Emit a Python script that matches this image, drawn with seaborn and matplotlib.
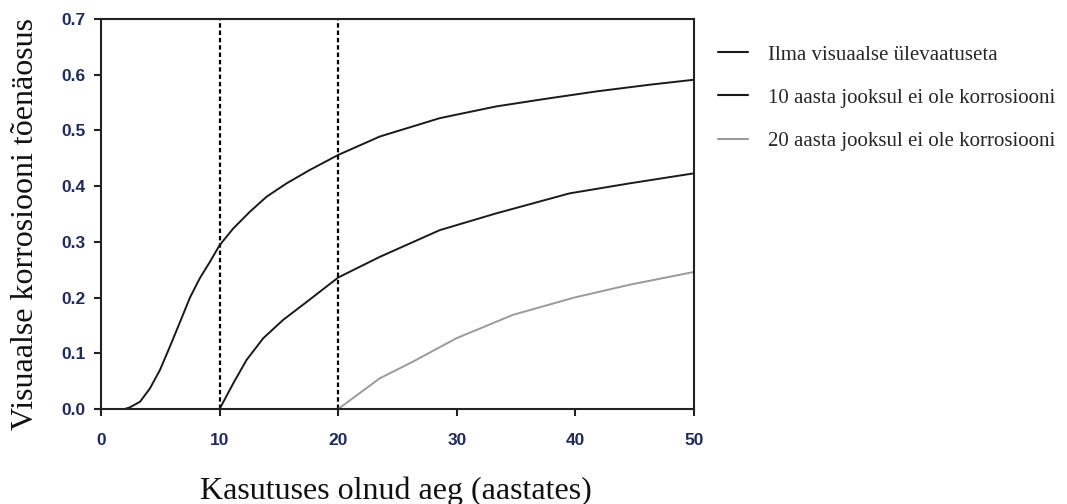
import numpy as np
import pandas as pd
import matplotlib
matplotlib.use("Agg")
import matplotlib.pyplot as plt
import seaborn as sns

# ---- data ----
labels = ["Ilma visuaalse ülevaatuseta",
          "10 aasta jooksul ei ole korrosiooni",
          "20 aasta jooksul ei ole korrosiooni"]

x1 = [2.0, 2.44, 3.29, 4.13, 4.97, 5.81, 6.66, 7.5, 8.34, 9.18, 10.0, 11.15, 12.55, 13.96,
      15.65, 17.6, 20.0, 23.5, 28.56, 33.3, 37.26, 41.76, 46.25, 50.0]
y1 = [0.0, 0.003, 0.013, 0.037, 0.070, 0.112, 0.156, 0.200, 0.235, 0.264, 0.294, 0.324, 0.354, 0.381,
      0.405, 0.429, 0.456, 0.489, 0.522, 0.543, 0.556, 0.570, 0.582, 0.591]

x2 = [10.0, 11.15, 12.27, 13.68, 15.36, 17.33, 20.0, 23.5, 28.56, 33.3, 39.5, 44.57, 50.0]
y2 = [0.0, 0.046, 0.088, 0.127, 0.160, 0.192, 0.236, 0.273, 0.321, 0.351, 0.387, 0.405, 0.423]

x3 = [20.0, 23.5, 26.3, 29.97, 34.74, 39.9, 44.57, 50.0]
y3 = [0.0, 0.055, 0.085, 0.127, 0.169, 0.200, 0.223, 0.246]

vlines_x = [10, 20]
xticks = [0, 10, 20, 30, 40, 50]
yticks = [0.0, 0.1, 0.2, 0.3, 0.4, 0.5, 0.6, 0.7]

xlabel = "Kasutuses olnud aeg (aastates)"
ylabel = "Visuaalse korrosiooni tõenäosus"

df = pd.concat([
    pd.DataFrame({"x": x1, "y": y1, "s": labels[0]}),
    pd.DataFrame({"x": x2, "y": y2, "s": labels[1]}),
    pd.DataFrame({"x": x3, "y": y3, "s": labels[2]}),
])

sns.set_style("ticks")
plt.rcParams["font.family"] = ["Liberation Sans", "DejaVu Sans"]

W, H = 1067, 504
fig = plt.figure(figsize=(W / 100, H / 100), dpi=100)
ax = fig.add_axes([101 / W, 1 - 409 / H, (694 - 101) / W, (409 - 19) / H])

palette = {labels[0]: "#1a1a1a", labels[1]: "#1a1a1a", labels[2]: "#9a9a9a"}
sns.lineplot(data=df, x="x", y="y", hue="s", hue_order=labels, palette=palette,
             linewidth=1.4, ax=ax, sort=True, estimator=None)

for vx in vlines_x:
    ax.axvline(vx, color="black", linestyle=(0, (2.0, 1.3)), linewidth=1.6, zorder=1)

ax.set_xlim(0, 50)
ax.set_ylim(0, 0.7)
ax.set_xticks(xticks)
ax.set_yticks(yticks)
ax.set_xticklabels([str(t) for t in xticks])
ax.set_yticklabels([f"{t:.1f}" for t in yticks])

tick_color = "#1f2a60"
for lab in ax.get_xticklabels() + ax.get_yticklabels():
    lab.set_fontweight("bold")
    lab.set_color(tick_color)
    lab.set_fontsize(12.5)
    lab.set_family(["Liberation Sans", "DejaVu Sans"])
ax.tick_params(axis="both", direction="out", length=5, width=1.5, color="#222222")
ax.tick_params(axis="x", pad=12)
ax.tick_params(axis="y", pad=6)

for sp in ax.spines.values():
    sp.set_visible(True)
    sp.set_linewidth(1.5)
    sp.set_color("#222222")

serif = ["Liberation Serif", "DejaVu Serif"]
ax.set_xlabel(xlabel, fontsize=23, family=serif, color="#111111")
ax.set_ylabel(ylabel, fontsize=23, family=serif, color="#111111")
ax.xaxis.set_label_coords(0.497, -0.172)
ax.yaxis.set_label_coords(-0.103, 0.474)

leg = ax.legend(loc="upper left", bbox_to_anchor=(718 / W, 1 - 45 / H),
                bbox_transform=fig.transFigure, frameon=False,
                borderpad=0, borderaxespad=0,
                handlelength=1.45, handletextpad=0.96, labelspacing=1.13,
                prop={"family": serif, "size": 15})
for line in leg.get_lines():
    line.set_linewidth(1.5)

fig.savefig("out.png", dpi=100)
